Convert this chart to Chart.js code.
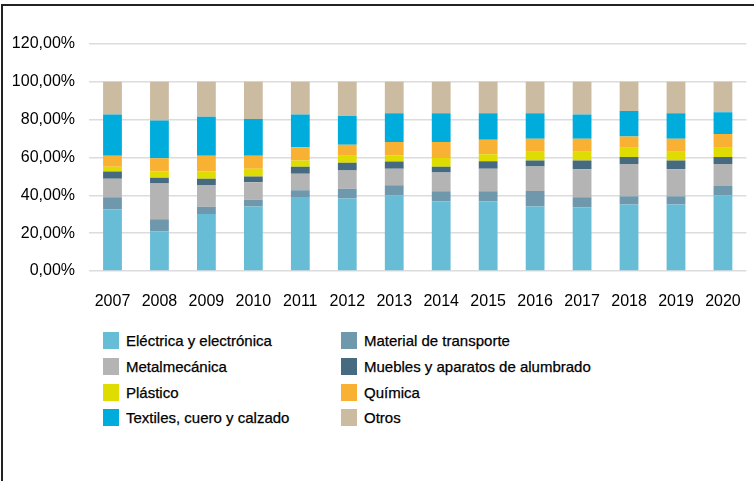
<!DOCTYPE html>
<html>
<head>
<meta charset="utf-8">
<script src="https://cdn.jsdelivr.net/npm/chart.js@4"></script>
<style>
  html, body { margin: 0; padding: 0; background: #fff; }
  #wrap { position: relative; width: 754px; height: 481px; overflow: hidden; font-family: "Liberation Sans", Arial, sans-serif; }
  #frame { position: absolute; left: 1px; top: 4px; width: 800px; height: 500px; border-left: 2px solid #222; border-top: 2px solid #222; }
  #chartBox { position: absolute; left: 0; top: 0; width: 754px; height: 311px; }
  #legend { position: absolute; left: 103px; top: 332px; display: grid; grid-template-columns: 238px 320px; row-gap: 8px; }
  .item { display: flex; align-items: center; height: 17.7px; font-size: 15px; color: #000; -webkit-text-stroke: 0.25px #000; }
  .sw { width: 16px; height: 17px; margin-right: 7px; flex: none; }
</style>
</head>
<body>
<div id="wrap">
  <div id="frame"></div>
  <div id="chartBox"><canvas id="chart"></canvas></div>
  <div id="legend"></div>
</div>
<script>
const years = ['2007','2008','2009','2010','2011','2012','2013','2014','2015','2016','2017','2018','2019','2020'];

const electrica  = [32.5, 21.0, 30.1, 34.1, 39.1, 38.3, 39.9, 36.9, 36.9, 34.1, 33.6, 35.2, 35.2, 39.9];
const material   = [ 6.5,  6.4,  3.8,  3.5,  3.6,  5.2,  5.4,  5.2,  5.2,  8.2,  5.4,  4.3,  4.3,  5.0];
const metal      = [ 9.8, 18.8, 11.5,  9.3,  8.7,  9.6,  8.7, 10.0, 11.9, 12.9, 14.8, 17.0, 14.3, 11.6];
const muebles    = [ 3.8,  3.1,  3.4,  3.1,  3.7,  4.1,  3.9,  3.0,  4.0,  3.2,  4.6,  3.8,  4.6,  3.8];
const plastico   = [ 2.5,  3.3,  3.8,  4.0,  3.3,  3.7,  3.1,  4.7,  3.7,  4.7,  4.7,  4.8,  4.7,  4.9];
const quimica    = [ 5.8,  7.0,  8.3,  6.9,  7.0,  5.9,  7.2,  8.4,  7.7,  6.8,  6.8,  6.0,  6.8,  7.2];
const textiles   = [21.8, 19.9, 20.6, 19.4, 17.3, 15.2, 15.2, 15.2, 14.0, 13.5, 12.8, 13.5, 13.5, 11.5];
const otros      = [17.3, 20.5, 18.5, 19.7, 17.3, 18.0, 16.6, 16.6, 16.6, 16.6, 17.3, 15.4, 16.6, 16.1];

const yTicks = [0, 20, 40, 60, 80, 100, 120];

const series = [
  { label: 'Eléctrica y electrónica', data: electrica, color: '#67bcd6' },
  { label: 'Material de transporte', data: material, color: '#6f98ad' },
  { label: 'Metalmecánica', data: metal, color: '#b4b4b4' },
  { label: 'Muebles y aparatos de alumbrado', data: muebles, color: '#466b80' },
  { label: 'Plástico', data: plastico, color: '#dedc00' },
  { label: 'Química', data: quimica, color: '#f8b133' },
  { label: 'Textiles, cuero y calzado', data: textiles, color: '#00acdb' },
  { label: 'Otros', data: otros, color: '#cbbba0' }
];

const tickFont = { family: 'Liberation Sans', size: 16 };

const chart = new Chart(document.getElementById('chart'), {
  type: 'bar',
  data: {
    labels: years,
    datasets: series.map(s => ({
      label: s.label,
      data: s.data,
      backgroundColor: s.color,
      borderWidth: 0,
      barPercentage: 0.4,
      categoryPercentage: 1
    }))
  },
  options: {
    responsive: true,
    maintainAspectRatio: false,
    animation: false,
    layout: { padding: { left: 0, right: 7, top: 44, bottom: 0 } },
    plugins: { legend: { display: false }, tooltip: { enabled: false } },
    scales: {
      x: {
        stacked: true,
        grid: { display: false },
        border: { display: false },
        ticks: { color: '#000', font: tickFont, padding: 13, maxRotation: 0 },
        afterFit: s => { s.height = 40; }
      },
      y: {
        stacked: true,
        min: 0,
        max: 120,
        afterBuildTicks: s => { s.ticks = yTicks.map(v => ({ value: v })); },
        grid: { color: '#dcdcdc', lineWidth: 1.5, drawTicks: false },
        border: { display: false },
        ticks: {
          color: '#000',
          font: tickFont,
          padding: 14,
          callback: v => v.toFixed(2).replace('.', ',') + '%'
        },
        afterFit: s => { s.width = 89; }
      }
    }
  }
});

// legend in two columns, same order as the stacks
const legend = document.getElementById('legend');
series.forEach(s => {
  const item = document.createElement('div');
  item.className = 'item';
  const sw = document.createElement('span');
  sw.className = 'sw';
  sw.style.background = s.color;
  item.appendChild(sw);
  item.appendChild(document.createTextNode(s.label));
  legend.appendChild(item);
});
</script>
</body>
</html>
